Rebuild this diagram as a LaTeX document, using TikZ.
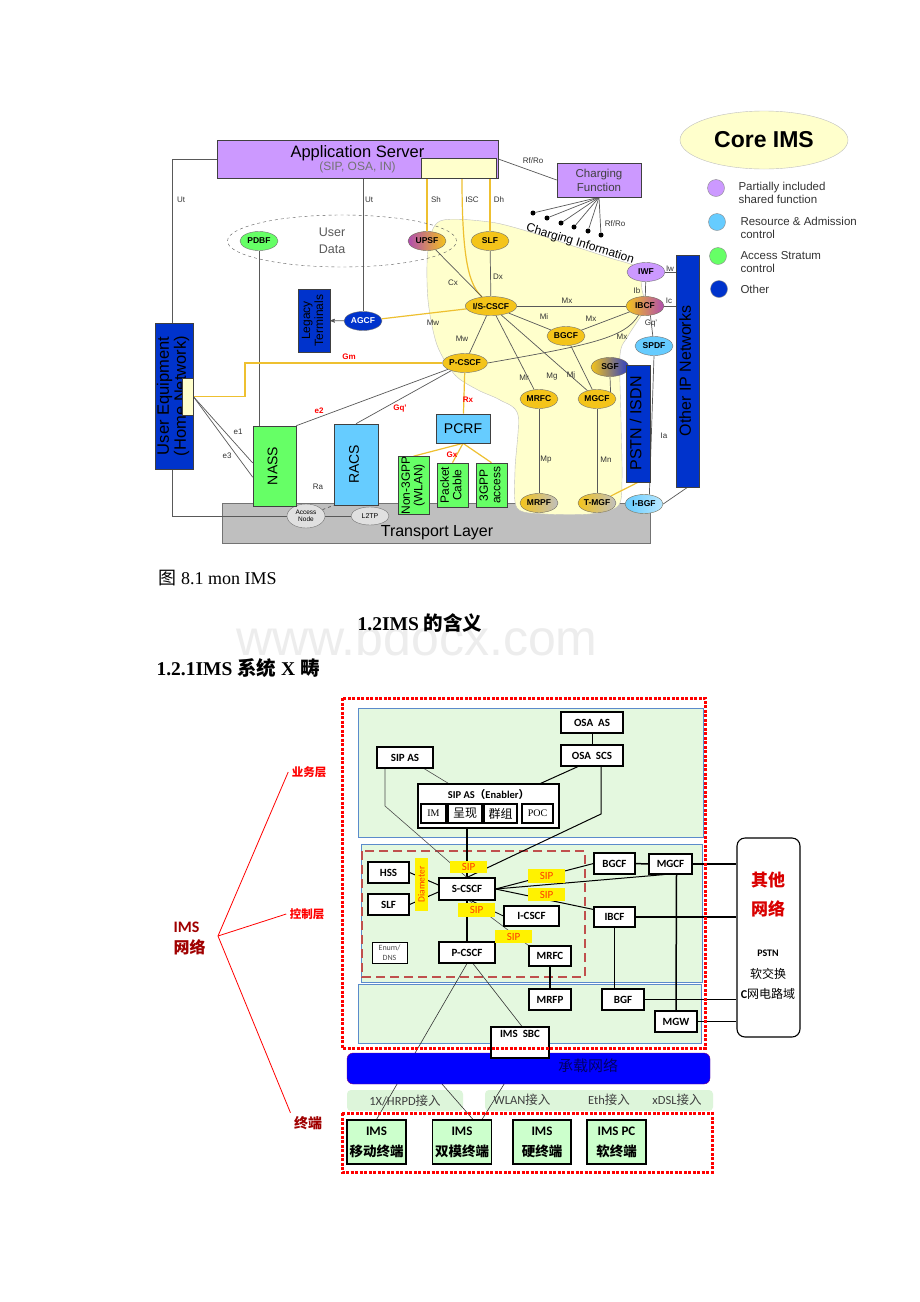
\documentclass[tikz,border=0pt]{standalone}
\usepackage{fontspec}
\setmainfont{Liberation Sans}
\newfontfamily\calf{Carlito}
\newfontfamily\cjk{Noto Sans CJK SC}
\newfontfamily\tms{Liberation Serif}
\usepackage{tikz}
\usetikzlibrary{arrows,shapes.geometric,calc,positioning}
\pgfdeclarelayer{back}
\pgfdeclarelayer{bg}
\pgfsetlayers{back,bg,main}
\newcommand{\fsz}[2]{\fontsize{#1}{#2}\selectfont}
\newcommand{\vtx}[1]{\rotatebox{90}{\begin{tabular}{@{}c@{}}#1\end{tabular}}}
\definecolor{imsc}{HTML}{F4C41A}
\definecolor{purp}{HTML}{CC99FF}
\definecolor{mag}{HTML}{B04CB0}
\definecolor{rac}{HTML}{66CCFF}
\definecolor{accs}{HTML}{66FF66}
\definecolor{oth}{HTML}{0033CC}
\definecolor{blu}{HTML}{2A3CC8}
\definecolor{pale}{HTML}{FFFFCC}
\definecolor{ifc}{HTML}{EEC030}
\definecolor{lay}{HTML}{E4F8DF}
\definecolor{layb}{HTML}{5B8BCB}
\definecolor{drd}{HTML}{C0504D}
\definecolor{dkred}{HTML}{A00000}
\definecolor{sipr}{HTML}{FF3C00}
\definecolor{accg}{HTML}{DDF5DA}

\begin{document}
\begin{tikzpicture}[x=1pt,y=-1pt,>=stealth',
    fn/.style={ellipse,draw=black!55,fill=imsc,minimum width=38,minimum height=19,inner sep=0pt,font=\fsz{8.5}{8.5}\bfseries},
    bx/.style={draw=black!75,line width=.6pt,inner sep=0pt,align=center},
    yl/.style={draw=ifc,line width=1.2pt},
    gl/.style={draw=black!65,line width=.7pt},
    lab/.style={font=\fsz{8}{8},inner sep=0pt,text=black!80},
    rlab/.style={font=\fsz{8}{8}\bfseries,inner sep=0pt,text=red},
    cdot/.style={circle,fill=black,inner sep=0pt,minimum size=5},
    sb/.style={draw=black,line width=1.1pt,fill=white,inner sep=0pt,align=center,font=\calf\bfseries\fsz{11}{11}},
    sip/.style={fill=yellow,inner sep=0pt,minimum width=37,font=\calf\fsz{11}{11},text=sipr},
    term/.style={sb,fill=green!20,minimum width=59,minimum height=44,font=\calf\bfseries\fsz{13}{21}},
    reddot/.style={red,line width=3pt,dash pattern=on 3pt off 1.5pt}]
\useasboundingbox (0,0) rectangle (920,1302);

\begin{pgfonlayer}{back}
\fill[white] (0,0) rectangle (920,1302);
\node[font=\fsz{50}{50},text=black!7] (wm) at (417,638) {www.bdocx.com};
\node[draw=black!55,fill=black!25,minimum width=428,minimum height=40] (tl) at (436,523) {};
\filldraw[fill=pale,draw=black!25] plot[smooth cycle,tension=.5] coordinates {(428,250) (440,221) (490,222) (530,232) (570,245) (610,258) (638,268) (642,290) (645,308) (628,336) (620,355) (621,420) (622,480) (618,506) (590,514) (545,514) (517,508) (515,470) (518,415) (500,400) (478,390) (455,375) (437,345) (428,300)};
\filldraw[fill=lay,draw=layb,line width=1pt] (358,708) rectangle (703,837);
\filldraw[fill=lay,draw=layb,line width=1pt] (361,844) rectangle (702,982);
\filldraw[fill=lay,draw=layb,line width=1pt] (358,984) rectangle (701,1043);
\node[fill=accg,rounded corners=4,minimum width=116,minimum height=21,font=\calf\fsz{12.5}{12.5},text=black!75] (a1) at (405,1100.5) {1X/HRPD{\cjk 接入}};
\node[fill=accg,rounded corners=4,minimum width=228,minimum height=21] (a2) at (599,1100.5) {};
\end{pgfonlayer}

% core ims
\node[font=\tms\fsz{18}{18},anchor=west] (cap) at (155,578) {{\cjk 图} 8.1 mon IMS};
\node[font=\tms\bfseries\fsz{19.5}{19.5}] (h2) at (420,623) {1.2IMS {\cjk\bfseries 的含义}};
\node[font=\tms\bfseries\fsz{19.5}{19.5},anchor=west] (h3) at (153,668) {1.2.1IMS {\cjk\bfseries 系统} X {\cjk\bfseries 畴}};

\node[bx,fill=purp,minimum width=281,minimum height=38] (as) at (357.5,159) {{\fsz{16.5}{17}Application Server}\\{\fsz{12}{13}\color{black!55}(SIP, OSA, IN)}};
\node[bx,fill=pale,minimum width=75,minimum height=20] (asin) at (458.5,168) {};
\node[bx,fill=purp,minimum width=84,minimum height=34,font=\fsz{11.5}{14},text=black!75] (chf) at (599,180) {Charging\\Function};
\node[ellipse,draw=black!25,fill=pale,minimum width=168,minimum height=58,font=\fsz{23}{23}\bfseries] (ce) at (764,140) {Core IMS};
\foreach \i/\x/\y/\c in {1/716/188/purp,2/717/222/rac,3/718/256/accs,4/719/289/oth}
  \node[circle,draw=black!45,fill=\c,minimum size=17,inner sep=0pt] (lg\i) at (\x,\y) {};
\node[anchor=west,align=left,font=\fsz{11.5}{13},text=black!80] (lt1) at (735,192.5) {Partially included\\shared function};
\node[anchor=west,align=left,font=\fsz{11.5}{13},text=black!80] (lt2) at (737,228) {Resource \& Admission\\control};
\node[anchor=west,align=left,font=\fsz{11.5}{13},text=black!80] (lt3) at (737,262) {Access Stratum\\control};
\node[anchor=west,align=left,font=\fsz{11.5}{13},text=black!80] (lt4) at (737,289) {Other};

\node[ellipse,draw=black!65,dashed,minimum width=229,minimum height=52] (ud) at (342,241) {};
\node[align=center,font=\fsz{12.5}{17},text=black!65] (udt) at (332,241) {User\\Data};
\node[rotate=-17,font=\fsz{12}{12}] (ci) at (580,244) {Charging Information};

\node[fn,fill=accs] (pdbf) at (259,241) {PDBF};
\node[fn,left color=mag,right color=imsc] (upsf) at (427,241) {UPSF};
\node[fn] (slf) at (490,241) {SLF};
\node[fn] (scscf) at (491,306) {I/S-CSCF};
\node[fn] (bgcf) at (566,336) {BGCF};
\node[fn] (pcscf) at (465,363) {P-CSCF};
\node[fn,left color=imsc,right color=blu] (sgf) at (610,367) {SGF};
\node[fn] (mrfc) at (539,399) {MRFC};
\node[fn] (mgcf) at (597,399) {MGCF};
\node[fn,left color=imsc,right color=black!25] (mrpf) at (539,503) {MRPF};
\node[fn,left color=imsc,right color=black!25] (tmgf) at (597,503) {T-MGF};
\node[fn,fill=purp] (iwf) at (646,272) {IWF};
\node[fn,left color=imsc,right color=mag] (ibcf) at (645,306) {IBCF};
\node[fn,fill=rac] (spdf) at (654,346) {SPDF};
\node[fn,left color=rac,right color=rac!45] (ibgf) at (644,504) {I-BGF};
\node[fn,fill=oth,text=white] (agcf) at (363,321) {AGCF};
\node[fn,fill=black!12,minimum height=24,align=center,font=\fsz{6.5}{7}] (an) at (306,516) {Access\\Node};
\node[fn,fill=black!12,minimum height=18,font=\fsz{7}{7}] (l2tp) at (370,516) {L2TP};

\node[bx,fill=oth,minimum width=32,minimum height=63] (legacy) at (314,320.5) {\fsz{12}{13}\vtx{Legacy\\Terminals}};
\node[bx,fill=oth,minimum width=38,minimum height=146] (ue) at (174,396) {\fsz{16.5}{17}\vtx{User Equipment\\(Home Network)}};
\node[bx,fill=pale,minimum width=11,minimum height=37] (uey) at (187.5,396.5) {};
\node[bx,fill=accs,minimum width=43,minimum height=80] (nass) at (274.5,466) {\fsz{14}{14}\vtx{NASS}};
\node[bx,fill=rac,minimum width=44,minimum height=81] (racs) at (356,464.5) {\fsz{14}{14}\vtx{RACS}};
\node[bx,fill=rac,minimum width=54,minimum height=29] (pcrf) at (463,428.5) {\fsz{14}{14}PCRF};
\node[bx,fill=accs,minimum width=31,minimum height=45] (ng) at (413.5,485.5) {\fsz{12}{12.5}\vtx{Non-3GPP\\(WLAN)}};
\node[bx,fill=accs,minimum width=31,minimum height=44] (pc) at (452.5,485) {\fsz{12}{12.5}\vtx{Packet\\Cable}};
\node[bx,fill=accs,minimum width=31,minimum height=44] (gp) at (491.5,485) {\fsz{12}{12.5}\vtx{3GPP\\access}};
\node[bx,fill=oth,minimum width=24,minimum height=117] (pstn) at (638,423.5) {\fsz{16}{16}\vtx{PSTN / ISDN}};
\node[bx,fill=oth,minimum width=23,minimum height=232] (oip) at (687.5,371) {\fsz{16}{16}\vtx{Other IP Networks}};
\node[font=\fsz{16}{16}] (tlt) at (437,533) {Transport Layer};
\foreach \i/\x/\y in {1/533/213,2/547/218,3/561/223,4/574/227,5/588/231,6/601/235}
  \node[cdot] (cd\i) at (\x,\y) {};
\coordinate (isc) at (462,178);
\coordinate (gm) at (245,363);

\foreach \x/\y/\t [count=\i] in {181/200/Ut,369/200/Ut,436/200/Sh,472/200/ISC,499/200/Dh,533/161/{Rf/Ro},615/224/{Rf/Ro},
    453/283/Cx,498/277/Dx,433/323/Mw,462/339/Mw,567/301/Mx,544/317/Mi,591/319/Mx,622/337/Mx,524/378/Mr,552/377/Mg,
    571/375/Mj,546/460/Mp,606/460/Mn,637/291/Ib,670/269/Iw,669/301/Ic,651/324/Gq',664/436/Ia,238/432/e1,227/456/e3,318/487/Ra}
  \node[lab] (l\i) at (\x,\y) {\t};
\foreach \x/\y/\t [count=\i] in {349/357/Gm,319/411/e2,400/409/Gq',468/400/Rx,452/455/Gx}
  \node[rlab] (r\i) at (\x,\y) {\t};

\begin{pgfonlayer}{bg}
\draw[gl] (as.west) -- ++(-44,0) |- (an.west);
\draw[gl] (agcf |- as.south) -- (agcf);
\draw[yl] (upsf |- asin.south) -- (upsf);
\draw[yl] (isc) .. controls (462,265) and (470,285) .. (scscf);
\draw[yl] (slf |- asin.south) -- (slf);
\draw[gl] (as.east) -- (chf.west);
\foreach \i in {1,...,6} \draw[gl] (chf.south) -- (cd\i);
\draw[gl] (pdbf) -- (pdbf |- nass.north);
\draw[gl] (upsf) -- (scscf);
\draw[gl] (slf) -- (scscf);
\draw[yl] (agcf) -- (scscf);
\draw[gl,->] (agcf) -- (legacy);
\draw[gl] (scscf) -- (pcscf);
\draw[gl] (scscf) -- (ibcf);
\draw[gl] (scscf) -- (bgcf);
\draw[gl] (bgcf) -- (ibcf);
\draw[gl] (pcscf.east) .. controls (590,345) and (625,338) .. (ibcf.235);
\draw[gl] (scscf) -- (mrfc);
\draw[gl] (scscf) -- (mgcf);
\draw[gl] (bgcf) -- (mgcf);
\draw[gl] (mrfc) -- (mrpf);
\draw[gl] (mgcf) -- (tmgf);
\draw[gl] (sgf.south) -- (mgcf.north east);
\draw[yl] (tmgf.north east) -- (pstn.south);
\draw[gl] (iwf) -- (ibcf);
\draw[gl] (iwf.east) -- (oip.west |- iwf.east);
\draw[gl] (ibcf.east) -- (oip.west |- ibcf.east);
\draw[gl] (ibcf.-60) -- (spdf);
\draw[gl] (spdf.south) -- (ibgf.60);
\draw[gl] (ibgf.east) -- (oip.south);
\draw[yl] (pcscf.west) -- (gm) |- (uey.east);
\draw[yl] (pcscf) -- (pcrf);
\draw[yl] (pcrf.south) -- (ng.north);
\draw[yl] (pcrf.south) -- (pc.north);
\draw[yl] (pcrf.south) -- (gp.north);
\draw[gl] (nass.north east) -- (pcscf);
\draw[gl] (racs.north) -- (pcscf);
\draw[gl] (uey.east) -- (nass.172);
\draw[gl] (uey.east) -- (nass.207);
\draw[gl,dashed] (an) -- (racs.south west);
\draw[gl] (an) -- (l2tp);
\end{pgfonlayer}

% ims system
\node[sb,minimum width=62,minimum height=21] (osaas) at (592,722.5) {OSA\ \ AS};
\node[sb,minimum width=62,minimum height=21] (osascs) at (592,755.5) {OSA\ \ SCS};
\node[sb,minimum width=56,minimum height=21] (sipas) at (405,757.5) {SIP AS};
\node[sb,minimum width=141,minimum height=44] (en) at (488.5,806) {};
\node[font=\calf\bfseries\fsz{10.5}{10.5}] (ent) at (488.5,794) {SIP AS{\cjk （}Enabler{\cjk ）}};
\node[sb,minimum width=25,minimum height=19,font=\tms\fsz{10}{10}] (im) at (433.5,813.5) {IM};
\node[sb,minimum width=34,minimum height=19,font=\cjk\fsz{12}{12}] (cx) at (465,813.5) {呈现};
\node[sb,minimum width=33,minimum height=19,font=\cjk\fsz{12}{12}] (qz) at (500.5,813.5) {群组};
\node[sb,minimum width=31,minimum height=19,font=\tms\fsz{10}{10}] (poc) at (537.5,813.5) {POC};

\node[sb,minimum width=41,minimum height=21] (hss) at (388.5,872.5) {HSS};
\node[sb,minimum width=41,minimum height=21] (slf2) at (388.5,904.5) {SLF};
\node[fill=yellow,minimum width=13,minimum height=53,inner sep=0pt,text=sipr,font=\calf\fsz{9.5}{9.5}] (dia) at (421.5,884.5) {\rotatebox{90}{Diameter}};
\node[sb,minimum width=56,minimum height=22] (scs) at (467,889) {S-CSCF};
\node[sb,minimum width=55,minimum height=20] (ics) at (531.5,916) {I-CSCF};
\node[sb,minimum width=56,minimum height=21] (pcs) at (467,952.5) {P-CSCF};
\node[sb,minimum width=42,minimum height=20] (mrfc2) at (550,956) {MRFC};
\node[sb,line width=.8pt,minimum width=35,minimum height=21,font=\calf\fsz{8}{9.5},text=black!70] (enum) at (389.5,952.5) {Enum/\\DNS};
\node[sb,minimum width=41,minimum height=21] (bgcf2) at (614.5,863.5) {BGCF};
\node[sb,minimum width=43,minimum height=20] (mgcf2) at (670.5,864) {MGCF};
\node[sb,minimum width=41,minimum height=20] (ibcf2) at (614.5,917) {IBCF};
\node[sb,minimum width=42,minimum height=21] (mrfp) at (550,999.5) {MRFP};
\node[sb,minimum width=42,minimum height=21] (bgf) at (623,999.5) {BGF};
\node[sb,minimum width=42,minimum height=21] (mgw) at (676,1021.5) {MGW};
\node[sip,minimum height=12] (s1) at (468.5,867) {SIP};
\node[sip,minimum height=14] (s2) at (546.5,876) {SIP};
\node[sip,minimum height=13] (s3) at (546.5,894.5) {SIP};
\node[sip,minimum height=14] (s4) at (476.5,910) {SIP};
\node[sip,minimum height=13] (s5) at (513.5,936.5) {SIP};

\node[sb,rounded corners=8,minimum width=63,minimum height=199] (oth2) at (768.5,937.5) {};
\node[font=\cjk\bfseries\fsz{17}{17},text=red!85!black] (ot1) at (768,880) {其他};
\node[font=\cjk\bfseries\fsz{17}{17},text=red!85!black] (ot2) at (768,909) {网络};
\node[font=\calf\bfseries\fsz{10}{10}] (ot3) at (768,953) {PSTN};
\node[font=\cjk\fsz{12}{12}] (ot4) at (768,974) {软交换};
\node[font=\cjk\fsz{12}{12}] (ot5) at (768,994) {{\calf\bfseries C}网电路域};

\node[fill=blue,draw=violet,rounded corners=6,minimum width=363,minimum height=31] (bar) at (528.5,1068.5) {};
\node[font=\cjk\fsz{15}{15},text=blue!40!black] (bart) at (588,1066) {承载网络};
\node[sb,minimum width=58,minimum height=31] (sbc) at (520,1042.5) {IMS\ \ SBC\\[2pt]\strut};
\node[font=\calf\fsz{12.5}{12.5},text=black!75] (w1) at (522,1100) {WLAN{\cjk 接入}};
\node[font=\calf\fsz{12.5}{12.5},text=black!75] (w2) at (609,1100) {Eth{\cjk 接入}};
\node[font=\calf\fsz{12.5}{12.5},text=black!75] (w3) at (677,1100) {xDSL{\cjk 接入}};
\node[term] (mob) at (376.5,1142) {IMS\\{\cjk\bfseries\fsz{13.5}{13.5}移动终端}};
\node[term] (dual) at (462,1142) {IMS\\{\cjk\bfseries\fsz{13.5}{13.5}双模终端}};
\node[term,minimum width=58] (hard) at (542,1142) {IMS\\{\cjk\bfseries\fsz{13.5}{13.5}硬终端}};
\node[term] (pcx) at (616.5,1142) {IMS PC\\{\cjk\bfseries\fsz{13.5}{13.5}软终端}};

\draw[reddot] (342,698) rectangle (705,1048);
\draw[reddot] (342,1113) rectangle (712,1172);

\node[font=\cjk\bfseries\fsz{11.5}{11.5},text=red] (ywc) at (309,772) {业务层};
\node[font=\cjk\bfseries\fsz{11.5}{11.5},text=red] (kzc) at (307,914) {控制层};
\node[font=\cjk\bfseries\fsz{14}{14},text=dkred] (zd) at (308,1123) {终端};
\node[anchor=west,align=left,font=\calf\bfseries\fsz{16}{21},text=dkred] (imsn) at (170,938) {IMS\\{\cjk\bfseries 网络}};
\coordinate (hub) at (218,936);
\coordinate (k1) at (385,806);
\coordinate (k2) at (601,814);
\coordinate (k3) at (428,1068);

\begin{pgfonlayer}{bg}
\draw[drd,line width=2.5pt,dash pattern=on 9pt off 5pt] (362,851) rectangle (585,977);
\draw[line width=1pt] (osaas) -- (osascs);
\draw[black!70,line width=.6pt] ($(sipas.south)+(19,0)$) -- ($(en.north)+(-40,0)$);
\draw[line width=1pt] ($(osascs.south)+(-14,0)$) -- ($(en.north)+(52,0)$);
\draw[line width=1.1pt] (scs.north |- en.south) -- (scs.north);
\draw[black!70,line width=.6pt] (k1 |- sipas.south) -- (k1) -- (scs.north);
\draw[line width=1pt] (k2 |- osascs.south) -- (k2) -- (scs.north);
\draw[line width=1pt] (hss.east) -- ($(scs.west)+(0,-4)$);
\draw[line width=1pt] (slf2.east) -- ($(scs.west)+(0,3)$);
\draw[line width=1pt] (scs.east) -- (bgcf2.west);
\draw[line width=1pt] (scs.east) -- ($(mgcf2.south west)+(16,0)$);
\draw[line width=1pt] (scs.east) -- ($(ibcf2.north west)+(0,3)$);
\draw[line width=1.2pt] (scs) -- (pcs);
\draw[line width=.8pt] (ics.west) -- ($(scs.south)+(4,0)$);
\draw[black!70,line width=.6pt] ($(scs.south)+(2,0)$) -- (mrfc2.north west);
\draw[line width=1.5pt] (mrfc2) -- (mrfp);
\draw[line width=1.5pt] (bgcf2) -- (mgcf2);
\draw[line width=1.5pt] (mgcf2.east) -- (mgcf2.east -| oth2.west);
\draw[line width=1.5pt] (ibcf2.east) -- (ibcf2.east -| oth2.west);
\draw[line width=1.5pt] (ibcf2.south) -- (ibcf2.south |- bgf.north);
\draw[line width=1.5pt] ($(mgcf2.south)+(6,0)$) -- (mgw.north);
\draw[line width=1.6pt] (bgf.east) -- (bgf.east -| oth2.west);
\draw[line width=1.6pt] (mgw.east) -- (mgw.east -| oth2.west);
\draw[black!80,line width=.6pt] (pcs.south) -- (mob.north);
\draw[black!80,line width=.6pt] ($(pcs.south)+(6,0)$) -- ($(sbc.north)+(2,0)$);
\draw[black!80,line width=.6pt] (sbc.south) -- ($(dual.north)+(20,0)$);
\draw[black!80,line width=.6pt] (k3) -- ($(dual.north)+(11,0)$);
\draw[red,line width=.8pt] (hub) -- (ywc.west);
\draw[red,line width=.8pt] (hub) -- (kzc.west);
\draw[red,line width=.8pt] (hub) -- (zd.north west);
\end{pgfonlayer}
\end{tikzpicture}
\end{document}
